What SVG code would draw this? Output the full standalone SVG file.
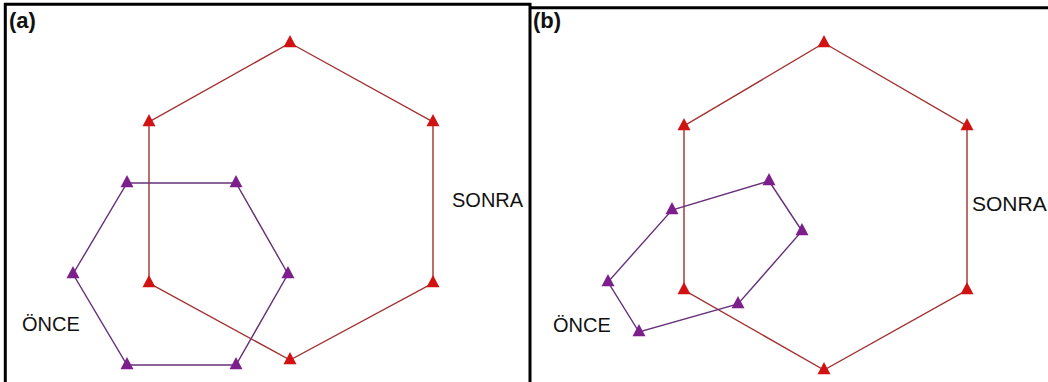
<svg xmlns="http://www.w3.org/2000/svg" xmlns:xlink="http://www.w3.org/1999/xlink" width="1048" height="382" viewBox="0 0 1048 382">
<style>
.frame{stroke:#000;stroke-width:3;fill:none}
.red{fill:none;stroke:#a33030;stroke-width:1.4}
.pur{fill:none;stroke:#67307a;stroke-width:1.4}
.tr{fill:#d01212}
.tp{fill:#7c1f8c}
.lbl{font-family:"Liberation Sans",Arial,sans-serif;fill:#111}
.panel{font-family:"Liberation Sans",Arial,sans-serif;font-weight:bold;font-size:22px;fill:#111}
</style>
<defs>
<path id="tri" d="M0,-8 L6.5,4.2 L-6.5,4.2 Z"/>
</defs>
<rect width="1048" height="382" fill="#fff"/>
<g id="frames">
<path class="frame" d="M5.3,382 V4.2 H530 V382"/>
<path class="frame" d="M530,7.7 H1048"/>
<text class="panel" x="9" y="28">(a)</text>
<text class="panel" x="533" y="28">(b)</text>
</g>
<g id="connectors">
<polygon class="red" points="290,43 433,122 433,283 290,360 149,283 149,122"/>
<polygon class="pur" points="127,183 236,183 288,274 236,365 127,365 73,274"/>
<polygon class="red" points="824,43 967,126 967,290 824,370 684,290 684,126"/>
<polygon class="pur" points="769,181 802,231 738,304 639,332 608,282 672,210"/>
</g>
<g id="a-sonra" class="tr">
<use xlink:href="#tri" x="290" y="43"/><use xlink:href="#tri" x="433" y="122"/><use xlink:href="#tri" x="433" y="283"/>
<use xlink:href="#tri" x="290" y="360"/><use xlink:href="#tri" x="149" y="283"/><use xlink:href="#tri" x="149" y="122"/>
</g>
<g id="a-once" class="tp">
<use xlink:href="#tri" x="127" y="183"/><use xlink:href="#tri" x="236" y="183"/><use xlink:href="#tri" x="288" y="274"/>
<use xlink:href="#tri" x="236" y="365"/><use xlink:href="#tri" x="127" y="365"/><use xlink:href="#tri" x="73" y="274"/>
</g>
<g id="b-sonra" class="tr">
<use xlink:href="#tri" x="824" y="43"/><use xlink:href="#tri" x="967" y="126"/><use xlink:href="#tri" x="967" y="290"/>
<use xlink:href="#tri" x="824" y="370"/><use xlink:href="#tri" x="684" y="290"/><use xlink:href="#tri" x="684" y="126"/>
</g>
<g id="b-once" class="tp">
<use xlink:href="#tri" x="769" y="181"/><use xlink:href="#tri" x="802" y="231"/><use xlink:href="#tri" x="738" y="304"/>
<use xlink:href="#tri" x="639" y="332"/><use xlink:href="#tri" x="608" y="282"/><use xlink:href="#tri" x="672" y="210"/>
</g>
<g id="labels">
<text class="lbl" x="452" y="207" font-size="20">SONRA</text>
<text class="lbl" x="22" y="331" font-size="20">ÖNCE</text>
<text class="lbl" x="972" y="211" font-size="21">SONRA</text>
<text class="lbl" x="553" y="332" font-size="20">ÖNCE</text>
</g>
</svg>
